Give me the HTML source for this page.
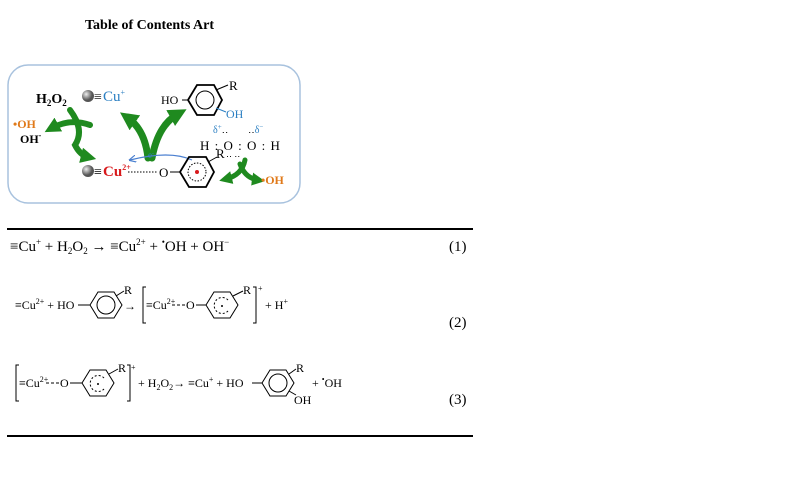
<!DOCTYPE html>
<html><head><style>
html,body{margin:0;padding:0;background:#fff;}
svg{display:block;font-family:"Liberation Serif",serif;}
</style></head><body>
<svg width="800" height="500" viewBox="0 0 800 500" xmlns="http://www.w3.org/2000/svg">
<defs>
<marker id="ga" markerWidth="2.6" markerHeight="2.6" refX="1.2" refY="1.3" orient="auto" markerUnits="strokeWidth"><path d="M0,0 L2.6,1.3 L0,2.6 z" fill="#1f8a1f"/></marker>
<marker id="ba" markerWidth="6" markerHeight="6" refX="5" refY="3" orient="auto"><path d="M0,0 L6,3 L0,6" fill="none" stroke="#4a7fd0"/></marker>
<radialGradient id="sph" cx="35%" cy="35%"><stop offset="0" stop-color="#eee"/><stop offset="1" stop-color="#555"/></radialGradient>
</defs>
<text x="85" y="29" font-size="14" font-weight="bold">Table of Contents Art</text>
<rect x="8" y="65" width="292" height="138" rx="20" fill="none" stroke="#a8c2de" stroke-width="1.5"/>
<text x="36" y="103" font-size="14" font-weight="bold">H<tspan font-size="9" dy="3">2</tspan><tspan dy="-3">O</tspan><tspan font-size="9" dy="3">2</tspan></text>
<circle cx="88" cy="96" r="6" fill="url(#sph)"/>
<text x="94" y="101" font-size="14" fill="#222">≡</text>
<text x="103" y="101" font-size="15" fill="#2b7fc2">Cu<tspan font-size="8" dy="-6">+</tspan></text>
<text x="13" y="128" font-size="12" font-weight="bold" fill="#e07a1a">•OH</text>
<text x="20" y="143" font-size="12" font-weight="bold">OH<tspan font-size="8" dy="-5">-</tspan></text>
<g fill="none" stroke="#1f8a1f" stroke-linecap="round">
<path d="M70,110 Q85,130 75,145 Q80,155 88,157" stroke-width="6" marker-end="url(#ga)"/>
<path d="M90,125 Q70,118 52,128" stroke-width="6" marker-end="url(#ga)"/>
<path d="M148,158 Q145,130 128,118" stroke-width="7" marker-end="url(#ga)"/>
<path d="M152,158 Q158,125 178,114" stroke-width="7" marker-end="url(#ga)"/>
<path d="M245,160 Q242,175 226,179" stroke-width="5" marker-end="url(#ga)"/>
<path d="M240,164 Q245,178 258,180" stroke-width="5" marker-end="url(#ga)"/>
</g>
<text x="161" y="104" font-size="12">HO</text>
<line x1="182" y1="100" x2="188" y2="100" stroke="#000"/>
<polygon points="188,100 197,85 214,85 222,100 214,115 197,115" fill="none" stroke="#000" stroke-width="1.8"/>
<circle cx="205" cy="100" r="9" fill="none" stroke="#000"/>
<line x1="216" y1="90" x2="228" y2="85" stroke="#000"/>
<text x="229" y="90" font-size="13">R</text>
<line x1="216" y1="108" x2="226" y2="112" stroke="#2b7fc2"/>
<text x="226" y="118" font-size="12" fill="#2b7fc2">OH</text>
<text x="213" y="133" font-size="10" fill="#2b7fc2">δ<tspan font-size="7" dy="-4">+</tspan><tspan dy="4" fill="#000">‥</tspan></text>
<text x="248" y="133" font-size="10" fill="#2b7fc2"><tspan fill="#000">‥</tspan>δ<tspan font-size="7" dy="-4">−</tspan></text>
<text x="200" y="150" font-size="13" letter-spacing="1">H : O : O : H</text>
<text x="226" y="157" font-size="9">‥   ‥</text>
<circle cx="88" cy="171" r="6" fill="url(#sph)"/>
<text x="94" y="176" font-size="14">≡</text>
<text x="103" y="176" font-size="15" font-weight="bold" fill="#d8191c">Cu<tspan font-size="8" dy="-6">2+</tspan></text>
<line x1="128" y1="172" x2="158" y2="172" stroke="#000" stroke-dasharray="1.5,1.5"/>
<text x="159" y="177" font-size="13">O</text>
<text x="148" y="158" font-size="9" fill="#2b7fc2">e<tspan font-size="6" dy="-3">-</tspan></text>
<path d="M192,160 Q170,150 130,160" fill="none" stroke="#4a7fd0" stroke-width="1.2" marker-end="url(#ba)"/>
<line x1="170" y1="172" x2="180" y2="172" stroke="#000"/>
<polygon points="180,172 189,157 206,157 214,172 206,187 189,187" fill="none" stroke="#000" stroke-width="1.8"/>
<circle cx="197" cy="172" r="9" fill="none" stroke="#000" stroke-dasharray="1.5,1.5"/>
<circle cx="197" cy="172" r="2" fill="#d8191c"/>
<line x1="208" y1="162" x2="217" y2="157" stroke="#000"/>
<text x="216" y="158" font-size="13">R</text>
<text x="261" y="184" font-size="12" font-weight="bold" fill="#e07a1a">•OH</text>
<line x1="7" y1="229" x2="473" y2="229" stroke="#000" stroke-width="2"/>
<line x1="7" y1="436" x2="473" y2="436" stroke="#000" stroke-width="2"/>
<text x="10" y="251" font-size="15">≡Cu<tspan font-size="9" dy="-6">+</tspan><tspan dy="6"> + H</tspan><tspan font-size="9" dy="3">2</tspan><tspan dy="-3">O</tspan><tspan font-size="9" dy="3">2</tspan><tspan dy="-3"> → ≡Cu</tspan><tspan font-size="9" dy="-6">2+</tspan><tspan dy="6"> + </tspan><tspan font-size="9" dy="-6">•</tspan><tspan dy="6">OH + OH</tspan><tspan font-size="9" dy="-6">−</tspan></text>
<text x="449" y="251" font-size="15">(1)</text>
<text x="15" y="309" font-size="12">≡Cu<tspan font-size="8" dy="-5">2+</tspan><tspan dy="5"> + HO</tspan></text>
<line x1="78" y1="305" x2="90" y2="305" stroke="#000"/>
<polygon points="90,305 98,292 114,292 122,305 114,318 98,318" fill="none" stroke="#000"/>
<circle cx="106" cy="305" r="9" fill="none" stroke="#000"/>
<line x1="116" y1="296" x2="124" y2="291" stroke="#000"/>
<text x="124" y="294" font-size="12">R</text>
<text x="124" y="310" font-size="12">→</text>
<path d="M146,287 L143,287 L143,323 L146,323" fill="none" stroke="#000"/>
<text x="146" y="309" font-size="12">≡Cu<tspan font-size="8" dy="-5">2+</tspan></text>
<line x1="172" y1="305" x2="186" y2="305" stroke="#000" stroke-dasharray="3,2"/>
<text x="186" y="309" font-size="12">O</text>
<line x1="196" y1="305" x2="206" y2="305" stroke="#000"/>
<polygon points="206,305 214,292 230,292 238,305 230,318 214,318" fill="none" stroke="#000"/>
<path d="M228,300 A8,8 0 1 0 228,311" fill="none" stroke="#000" stroke-dasharray="2,2"/>
<circle cx="222" cy="306" r="1" fill="#000"/>
<line x1="233" y1="296" x2="243" y2="291" stroke="#000"/>
<text x="243" y="294" font-size="12">R</text>
<path d="M253,287 L256,287 L256,323 L253,323" fill="none" stroke="#000"/>
<text x="258" y="291" font-size="8">+</text>
<text x="265" y="309" font-size="12">+ H<tspan font-size="8" dy="-5">+</tspan></text>
<text x="449" y="327" font-size="15">(2)</text>
<path d="M19,365 L16,365 L16,401 L19,401" fill="none" stroke="#000"/>
<text x="19" y="387" font-size="12">≡Cu<tspan font-size="8" dy="-5">2+</tspan></text>
<line x1="46" y1="383" x2="60" y2="383" stroke="#000" stroke-dasharray="3,2"/>
<text x="60" y="387" font-size="12">O</text>
<line x1="70" y1="383" x2="82" y2="383" stroke="#000"/>
<polygon points="82,383 90,370 106,370 114,383 106,396 90,396" fill="none" stroke="#000"/>
<path d="M104,378 A8,8 0 1 0 104,389" fill="none" stroke="#000" stroke-dasharray="2,2"/>
<circle cx="98" cy="384" r="1" fill="#000"/>
<line x1="109" y1="374" x2="118" y2="369" stroke="#000"/>
<text x="118" y="372" font-size="12">R</text>
<path d="M127,365 L130,365 L130,401 L127,401" fill="none" stroke="#000"/>
<text x="131" y="370" font-size="8">+</text>
<text x="138" y="387" font-size="12">+ H<tspan font-size="8" dy="3">2</tspan><tspan dy="-3">O</tspan><tspan font-size="8" dy="3">2</tspan><tspan dy="-3">→ ≡Cu</tspan><tspan font-size="8" dy="-5">+</tspan><tspan dy="5"> +  HO</tspan></text>
<line x1="252" y1="383" x2="262" y2="383" stroke="#000"/>
<polygon points="262,383 270,370 286,370 294,383 286,396 270,396" fill="none" stroke="#000"/>
<circle cx="278" cy="383" r="9" fill="none" stroke="#000"/>
<line x1="289" y1="374" x2="296" y2="369" stroke="#000"/>
<text x="296" y="372" font-size="12">R</text>
<line x1="289" y1="391" x2="296" y2="395" stroke="#000"/>
<text x="294" y="404" font-size="12">OH</text>
<text x="312" y="387" font-size="12">+ <tspan font-size="8" dy="-5">•</tspan><tspan dy="5">OH</tspan></text>
<text x="449" y="404" font-size="15">(3)</text>
</svg>
</body></html>
